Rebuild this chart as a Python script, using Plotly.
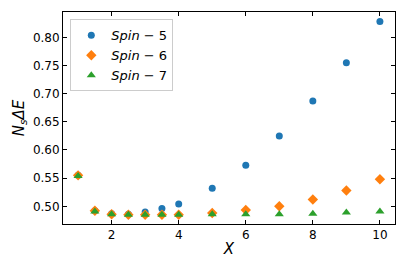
import plotly.graph_objects as go

x = [1, 1.5, 2, 2.5, 3, 3.5, 4, 5, 6, 7, 8, 9, 10]
spin5 = [0.555, 0.492, 0.487, 0.486, 0.490, 0.496, 0.504, 0.532, 0.573, 0.625, 0.687, 0.755, 0.828]
spin6 = [0.555, 0.492, 0.486, 0.485, 0.485, 0.485, 0.485, 0.488, 0.4935, 0.500, 0.512, 0.528, 0.548]
spin7 = [0.554, 0.491, 0.486, 0.485, 0.485, 0.485, 0.485, 0.486, 0.486, 0.486, 0.487, 0.489, 0.491]
names = ["<i>Spin</i> − 5", "<i>Spin</i> − 6", "<i>Spin</i> − 7"]
xticks = [2, 4, 6, 8, 10]
yticks = [0.50, 0.55, 0.60, 0.65, 0.70, 0.75, 0.80]

fig = go.Figure()
fig.add_trace(go.Scatter(x=x, y=spin5, mode="markers", name=names[0],
                         marker=dict(symbol="circle", size=7, color="#1f77b4")))
fig.add_trace(go.Scatter(x=x, y=spin6, mode="markers", name=names[1],
                         marker=dict(symbol="diamond", size=8, color="#ff7f0e")))
fig.add_trace(go.Scatter(x=x, y=spin7, mode="markers", name=names[2],
                         marker=dict(symbol="triangle-up", size=8, color="#2ca02c")))

axis_common = dict(showline=True, linecolor="black", linewidth=1, mirror="ticks",
                   ticks="inside", ticklen=4, tickwidth=1, tickcolor="black",
                   showgrid=False, zeroline=False, automargin=False,
                   tickfont=dict(family="DejaVu Sans", size=12, color="black"))

fig.update_layout(
    width=407, height=271,
    margin=dict(l=63, r=12, t=12, b=47),
    plot_bgcolor="white", paper_bgcolor="white",
    font=dict(family="DejaVu Sans", color="black"),
    xaxis=dict(range=[0.55, 10.45], tickvals=xticks,
               title=dict(text="<i>X</i>", font=dict(size=15), standoff=2),
               **axis_common),
    yaxis=dict(range=[0.4686, 0.845], tickvals=yticks, tickformat=".2f",
               title=dict(text="<i>N<sub>s</sub>ΔE</i>", font=dict(size=15), standoff=4),
               **axis_common),
    legend=dict(x=0.022, y=0.965, xanchor="left", yanchor="top",
                bgcolor="rgba(255,255,255,0.8)", bordercolor="#cccccc", borderwidth=1,
                font=dict(size=13, family="DejaVu Sans"), tracegroupgap=0,
                itemwidth=30),
    showlegend=True,
)

fig.write_html("out.html", config={"displayModeBar": False},
               post_script="document.body.style.margin='0';document.body.style.overflow='hidden';")
